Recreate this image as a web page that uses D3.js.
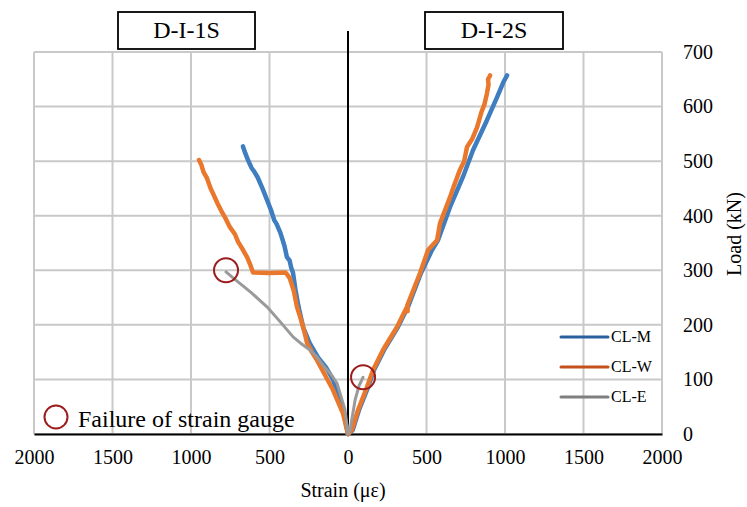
<!DOCTYPE html>
<html>
<head>
<meta charset="utf-8">
<script src="https://cdn.jsdelivr.net/npm/d3@7"></script>
<style>
  html, body { margin: 0; padding: 0; background: #fff; }
  svg { display: block; }
  svg text { font-family: "Liberation Serif", "Times New Roman", serif; fill: #000; }
</style>
</head>
<body>
<svg id="chart" width="747" height="507"></svg>
<script>
// Strain (με) vs load (kN); D-I-1S plotted on the negative side, D-I-2S on the positive side
const xTicks = [-2000, -1500, -1000, -500, 0, 500, 1000, 1500, 2000];
const yTicks = [0, 100, 200, 300, 400, 500, 600, 700];

const clM_1S = [[0,0],[-40,55],[-96,100],[-140,122],[-190,140],[-245,167],[-285,195],[-315,233],[-335,265],[-350,295],
  [-362,305],[-372,318],[-389,324],[-405,345],[-430,368],[-455,385],[-470,392],[-490,410],[-516,429],[-545,450],
  [-575,470],[-600,482],[-615,488],[-637,502],[-655,515],[-669,527]];
const clW_1S = [[0,0],[-32,38],[-96,81],[-150,110],[-197,135],[-230,150],[-261,167],[-280,190],[-300,210],[-325,233],
  [-345,262],[-370,285],[-389,293],[-400,296],[-500,295],[-605,296],[-625,312],[-643,324],[-670,338],[-700,352],
  [-720,366],[-752,379],[-780,395],[-800,405],[-830,422],[-860,441],[-875,450],[-900,470],[-920,480],[-935,494],[-949,502]];
const clE_1S = [[0,0],[-19,44],[-70,93],[-110,110],[-159,126],[-200,142],[-242,154],[-300,166],[-350,178],[-430,205],
  [-516,233],[-620,260],[-732,286],[-777,297]];

const clM_2S = [[0,0],[30,7],[70,44],[128,86],[165,117],[230,154],[318,196],[382,233],[465,295],[535,337],[573,355],
  [650,416],[732,471],[796,520],[885,575],[949,617],[990,645],[1013,657]];
const clW_2S = [[0,0],[25,7],[64,44],[121,86],[159,117],[223,154],[312,196],[376,233],[380,225],[378,236],[459,295],
  [510,337],[567,355],[586,386],[650,434],[675,455],[713,484],[740,500],[758,526],[790,540],[822,562],[850,590],
  [870,605],[885,624],[895,640],[892,650],[905,657]];
const clE_2S = [[0,0],[13,7],[45,62],[70,88],[96,104]];

// points where a gauge stopped reading
const failures = [[-777, 300], [96, 104]];

const seriesNames = ["CL-M", "CL-W", "CL-E"];
const lineColors = ["#3d7dc0", "#ea782c", "#9a9a9a"];
const legendColors = ["#2a5f9e", "#c4501c", "#7f7f7f"];
const panelTitles = ["D-I-1S", "D-I-2S"];

const FONT = "'Liberation Serif', 'Times New Roman', serif";
const svg = d3.select("#chart");
const x = d3.scaleLinear().domain([-2000, 2000]).range([34, 662]);
const y = d3.scaleLinear().domain([0, 700]).range([434, 52]);

// grid
const grid = svg.append("g").attr("stroke", "#c9c9c9").attr("stroke-width", 2);
grid.selectAll("line.v").data(xTicks).join("line")
  .attr("x1", d => x(d)).attr("x2", d => x(d)).attr("y1", y(700)).attr("y2", y(0));
grid.selectAll("line.h").data(yTicks).join("line")
  .attr("x1", x(-2000)).attr("x2", x(2000)).attr("y1", d => y(d)).attr("y2", d => y(d));

// x axis (labels show magnitude on both sides)
const xAxis = svg.append("g").attr("transform", `translate(0,${y(0)})`)
  .call(d3.axisBottom(x).tickValues(xTicks).tickSize(0).tickPadding(16).tickFormat(d => Math.abs(d)));
xAxis.attr("font-family", FONT);
xAxis.select(".domain").attr("stroke", "#000").attr("stroke-width", 2);
xAxis.selectAll("text").attr("font-size", 20).attr("font-family", FONT).attr("fill", "#000");

// y axis on the right
const yAxis = svg.append("g").attr("transform", `translate(${x(2000)},0)`)
  .call(d3.axisRight(y).tickValues(yTicks).tickSize(0).tickPadding(21));
yAxis.attr("font-family", FONT);
yAxis.select(".domain").remove();
yAxis.selectAll("text").attr("font-size", 20).attr("font-family", FONT).attr("fill", "#000");

// zero strain divider
svg.append("line").attr("x1", x(0)).attr("x2", x(0)).attr("y1", 31).attr("y2", y(0))
  .attr("stroke", "#000").attr("stroke-width", 2);

// axis titles
svg.append("text").attr("x", 343).attr("y", 497).attr("text-anchor", "middle")
  .attr("font-family", FONT).attr("font-size", 20).text("Strain (με)");
svg.append("text").attr("transform", "translate(741,234) rotate(-90)").attr("text-anchor", "middle")
  .attr("font-family", FONT).attr("font-size", 20).text("Load (kN)");

// curves
const line = d3.line().x(d => x(d[0])).y(d => y(d[1]));
const curves = [
  [clM_1S, 0, 4.5], [clM_2S, 0, 4.5],
  [clW_1S, 1, 4.5], [clW_2S, 1, 4.5],
  [clE_1S, 2, 3], [clE_2S, 2, 3]
];
svg.append("g").selectAll("path").data(curves).join("path")
  .attr("d", d => line(d[0]))
  .attr("fill", "none")
  .attr("stroke", d => lineColors[d[1]])
  .attr("stroke-width", d => d[2])
  .attr("stroke-linejoin", "round")
  .attr("stroke-linecap", "round");

// gauge failure markers
svg.append("g").selectAll("circle").data(failures).join("circle")
  .attr("cx", d => x(d[0])).attr("cy", d => y(d[1])).attr("r", 12)
  .attr("fill", "none").attr("stroke", "#9c1c1c").attr("stroke-width", 2);

svg.append("circle").attr("cx", 56).attr("cy", 417).attr("r", 11.5)
  .attr("fill", "none").attr("stroke", "#9c1c1c").attr("stroke-width", 2);
svg.append("text").attr("x", 78).attr("y", 427).attr("font-family", FONT).attr("font-size", 24)
  .text("Failure of strain gauge");

// legend
const legend = svg.append("g");
seriesNames.forEach((name, i) => {
  const ly = 337 + i * 30;
  legend.append("line").attr("x1", 561).attr("x2", 608).attr("y1", ly).attr("y2", ly)
    .attr("stroke", legendColors[i]).attr("stroke-width", 3).attr("stroke-linecap", "round");
  legend.append("text").attr("x", 611).attr("y", ly + 5).attr("font-family", FONT)
    .attr("font-size", 16).text(name);
});

// panel titles
const boxes = [[118, 255], [425, 563]];
panelTitles.forEach((t, i) => {
  const [bx0, bx1] = boxes[i];
  svg.append("rect").attr("x", bx0).attr("y", 12).attr("width", bx1 - bx0).attr("height", 37)
    .attr("fill", "#fff").attr("stroke", "#000").attr("stroke-width", 1.8);
  svg.append("text").attr("x", (bx0 + bx1) / 2).attr("y", 38).attr("text-anchor", "middle")
    .attr("font-family", FONT).attr("font-size", 24).text(t);
});
</script>
</body>
</html>
